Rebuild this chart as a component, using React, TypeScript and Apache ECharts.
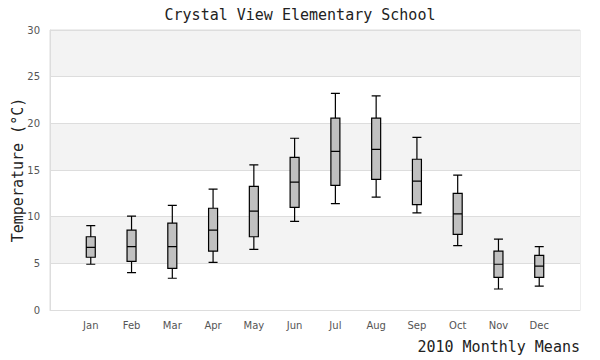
import React, { useEffect, useRef } from "react";
import * as echarts from "echarts";

const months = ["Jan", "Feb", "Mar", "Apr", "May", "Jun", "Jul", "Aug", "Sep", "Oct", "Nov", "Dec"];
// [min, Q1, median, Q3, max]
const lows = [4.9, 4.0, 3.4, 5.1, 6.5, 9.5, 11.4, 12.1, 10.4, 6.9, 2.25, 2.55];
const q1s = [5.65, 5.2, 4.45, 6.3, 7.85, 11.0, 13.35, 14.0, 11.3, 8.1, 3.5, 3.5];
const medians = [6.7, 6.8, 6.8, 8.55, 10.6, 13.7, 17.0, 17.2, 13.8, 10.3, 4.9, 4.7];
const q3s = [7.85, 8.55, 9.3, 10.9, 13.25, 16.35, 20.55, 20.55, 16.15, 12.5, 6.3, 5.85];
const highs = [9.05, 10.05, 11.2, 12.95, 15.55, 18.4, 23.2, 22.95, 18.5, 14.45, 7.6, 6.8];
const yTicks = [0, 5, 10, 15, 20, 25, 30];

const mono = "'DejaVu Sans Mono', monospace";
const sans = "'DejaVu Sans', sans-serif";

export default function App() {
  const ref = useRef<HTMLDivElement>(null);
  useEffect(() => {
    if (!ref.current) return;
    document.body.style.margin = "0";
    const chart = echarts.init(ref.current, null, { renderer: "svg" });
    const axisCats = ["", ...months, ""];
    const data = months.map((_, i) => [i + 1, lows[i], q1s[i], medians[i], q3s[i], highs[i]]);
    chart.setOption({
      animation: false,
      backgroundColor: "#ffffff",
      title: {
        text: "Crystal View Elementary School",
        left: "center",
        top: 2,
        textStyle: { fontFamily: mono, fontSize: 15, fontWeight: "normal", color: "#222" },
      },
      grid: {
        left: 50,
        right: 20,
        top: 30,
        bottom: 50,
        containLabel: false,
        outerBoundsMode: "none",
        show: true,
        borderColor: "#dddddd",
        borderWidth: 1,
        backgroundColor: "transparent",
      },
      xAxis: {
        type: "category",
        data: axisCats,
        boundaryGap: false,
        name: "2010 Monthly Means",
        nameLocation: "end",
        nameGap: 0,
        nameMoveOverlap: false,
        nameTextStyle: {
          fontFamily: mono,
          fontSize: 15,
          color: "#222",
          align: "right",
          verticalAlign: "top",
          padding: [29, 0, 0, 0],
        },
        axisLine: { show: true, lineStyle: { color: "#dddddd" } },
        axisTick: { show: false },
        axisLabel: { fontFamily: sans, fontSize: 10, color: "#555", margin: 10, interval: 0 },
        splitLine: { show: false },
      },
      yAxis: {
        type: "value",
        min: yTicks[0],
        max: yTicks[yTicks.length - 1],
        interval: 5,
        name: "Temperature (°C)",
        nameLocation: "middle",
        nameGap: 25,
        nameMoveOverlap: false,
        nameTextStyle: { fontFamily: mono, fontSize: 15, color: "#222" },
        axisLine: { show: true, lineStyle: { color: "#dddddd" } },
        axisTick: { show: false },
        axisLabel: { fontFamily: sans, fontSize: 10, color: "#555", margin: 10 },
        splitLine: { show: true, lineStyle: { color: "#dddddd" } },
        splitArea: { show: true, areaStyle: { color: ["#ffffff", "#f3f3f3"] } },
      },
      series: [
        {
          type: "boxplot",
          data,
          encode: { x: 0, y: [1, 2, 3, 4, 5] },
          boxWidth: [9, 9],
          itemStyle: { color: "#c0c0c0", borderColor: "#000000", borderWidth: 1.2 },
        },
      ],
    });
    return () => chart.dispose();
  }, []);
  return <div ref={ref} style={{ width: 600, height: 360 }} />;
}
